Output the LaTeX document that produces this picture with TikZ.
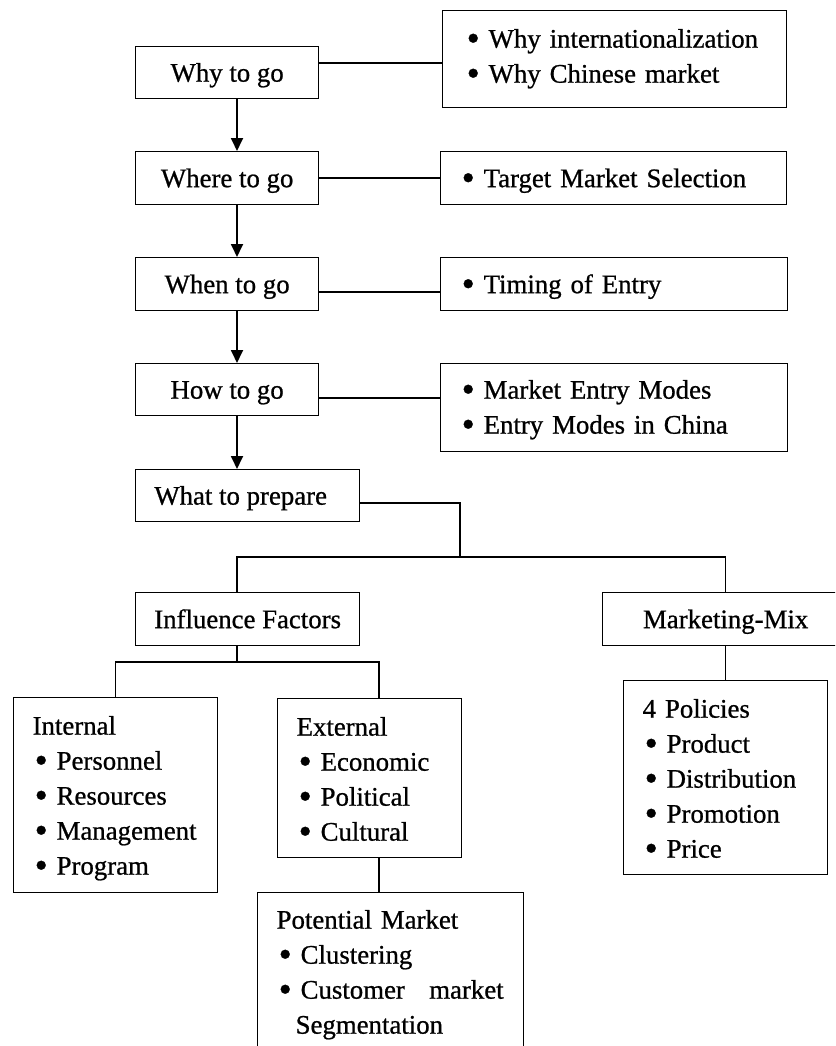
\documentclass[tikz,border=0pt]{standalone}
\usepackage{fontspec}
\setmainfont{Liberation Serif}[FakeBold=0.8]
\usetikzlibrary{arrows.meta}
% enlarged bullet with a fixed hanging width
\newcommand\bitem{\makebox[24pt][l]{\hspace{2pt}\raisebox{-3pt}{\scalebox{1.4}{\textbullet}}}}
\begin{document}
\begin{tikzpicture}[x=1pt,y=-1pt,
  every node/.style={font=\fontsize{26.8}{35}\selectfont},
  box/.style={draw, line width=1.3pt, anchor=north west, inner sep=0pt},
  one/.style={box, text height=18pt, text depth=0pt},
  list/.style={box, align=left, text height=18pt},
  link/.style={line width=1.3pt},
  flow/.style={line width=1.8pt, -{Triangle[length=13pt,width=12pt]}}]
\useasboundingbox (0,0) rectangle (835,1046);
\clip (0,0) rectangle (835,1046);

% main sequence
\node[one, minimum width=183pt, minimum height=52pt] (why)   at (135,46)  {Why to go};
\node[one, minimum width=183pt, minimum height=53pt] (where) at (135,151) {Where to go};
\node[one, minimum width=183pt, minimum height=53pt] (when)  at (135,257) {When to go};
\node[one, minimum width=183pt, minimum height=52pt] (how)   at (135,363) {How to go};
\node[one, minimum width=224pt, minimum height=52pt] (what)  at (135,469) {What to prepare\hspace*{14pt}};

% topics of each step
\node[list, inner xsep=22pt, text width=300pt, text depth=41pt, minimum height=97pt] (r1) at (442,10)
  {\bitem Why internationalization\\ \bitem Why Chinese market};
\node[one, align=left, inner xsep=19pt, text width=308pt, minimum height=53pt] (r2) at (440,151)
  {\bitem Target Market Selection};
\node[one, align=left, inner xsep=19pt, text width=309pt, minimum height=53pt] (r3) at (440,257)
  {\bitem Timing of Entry};
\node[list, inner xsep=19pt, text width=309pt, text depth=36pt, minimum height=88pt] (r4) at (440,363)
  {\bitem Market Entry Modes\\ \bitem Entry Modes in China};

% preparation tree
\node[one, minimum width=224pt, minimum height=53pt] (infl) at (135,592) {Influence Factors};
\node[one, minimum width=246pt, minimum height=53pt] (mix)  at (602,592) {Marketing-Mix};
\node[list, inner xsep=19pt, text width=166pt, text depth=138pt, minimum height=194pt] (policies) at (623,680)
  {4 Policies\\ \bitem Product\\ \bitem Distribution\\ \bitem Promotion\\ \bitem Price};
\node[list, inner xsep=19pt, text width=166pt, text depth=139pt, minimum height=195pt] (internal) at (13,697)
  {Internal\\ \bitem Personnel\\ \bitem Resources\\ \bitem Management\\ \bitem Program};
\node[list, inner xsep=19pt, text width=146pt, text depth=103pt, minimum height=159pt] (external) at (277,698)
  {External\\ \bitem Economic\\ \bitem Political\\ \bitem Cultural};
\node[list, inner xsep=19pt, text width=228pt, text height=36pt, text depth=170pt] (potential) at (257,892)
  {Potential Market\\ \bitem Clustering\\ \bitem\hbox to 203pt{Customer\hfill market}\\ \hspace*{19pt}Segmentation};

% connector guide points
\coordinate (spine) at (237,0);
\coordinate (ex)    at (379,0);
\coordinate (h1) at (0,63);
\coordinate (h2) at (0,178);
\coordinate (h3) at (0,292);
\coordinate (h4) at (0,398);
\coordinate (h5) at (0,503);
\coordinate (fork)  at (460,557);
\coordinate (fork2) at (237,662);

% arrows between steps
\draw[flow] (why.south -| spine)   -- (where.north -| spine);
\draw[flow] (where.south -| spine) -- (when.north -| spine);
\draw[flow] (when.south -| spine)  -- (how.north -| spine);
\draw[flow] (how.south -| spine)   -- (what.north -| spine);

% step to topic links
\draw[link] (why.east |- h1)   -- (r1.west |- h1);
\draw[link] (where.east |- h2) -- (r2.west |- h2);
\draw[link] (when.east |- h3)  -- (r3.west |- h3);
\draw[link] (how.east |- h4)   -- (r4.west |- h4);

% tree links
\draw[link] (what.east |- h5) -| (fork);
\draw[link] (infl.north -| spine) |- (fork) -| (mix.north);
\draw[link] (infl.south -| spine) -- (fork2);
\draw[link] (internal.north) |- (fork2) -| (external.north -| ex);
\draw[link] (external.south -| ex) -- (potential.north -| ex);
\draw[link] (mix.south) -- (policies.north);
\end{tikzpicture}
\end{document}
